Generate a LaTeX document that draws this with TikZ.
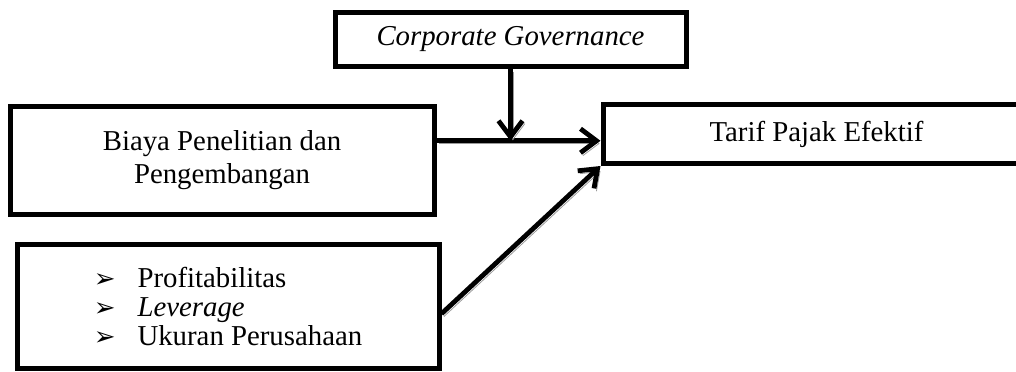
\documentclass[tikz,border=0pt]{standalone}
\usepackage{fontspec}
\setmainfont{Liberation Serif}
\newfontfamily\symfont{DejaVu Sans}
\usetikzlibrary{arrows.meta,positioning,calc}
\definecolor{ink}{HTML}{000000}
\definecolor{shade}{HTML}{9A9A9A}
\tikzset{
  box/.style={draw=ink,line width=2.5pt,inner sep=0pt,align=center,
    font=\fontsize{14.4}{16.5}\selectfont},
  link/.style={-{Straight Barb[length=8pt,width=12pt]},line width=2.4pt,ink,
    preaction={draw=shade,transform canvas={shift={(1.2pt,-1.4pt)}}}}
}
\newcommand{\bul}{{\symfont\fontsize{13}{14}\selectfont ➢}\hspace{11pt}}

\begin{document}
\begin{tikzpicture}[x=0.5pt,y=-0.5pt]
\clip (0,0) rectangle (1016,371);
\node[box,minimum width=175.5pt,minimum height=27pt] (cg) at (510.5,39.5) {\textit{Corporate Governance}};
\node[box,minimum width=212pt,minimum height=54pt] (bpp) at (222,160) {Biaya Penelitian dan\\Pengembangan};
\node[box,minimum width=213.5pt,minimum height=29.5pt] (tpe) at (816.5,134) {Tarif Pajak Efektif};
\node[box,minimum width=211pt,minimum height=62pt,align=left,
  font=\fontsize{14.4}{14.5}\selectfont] (ctl) at (228,306)
  {\bul Profitabilitas\\ \bul\textit{Leverage}\\ \bul Ukuran Perusahaan};
\coordinate (src) at ($(bpp.north east)!0.33!(bpp.south east)$);
\coordinate (ctlout) at ($(ctl.north east)!0.56!(ctl.south east)$);
\draw[link] (src) -- (src -| tpe.west);
\draw[link] (cg.south) -- (cg.south |- src);
\draw[link] (ctlout) -- (tpe.south west);
\end{tikzpicture}
\end{document}
